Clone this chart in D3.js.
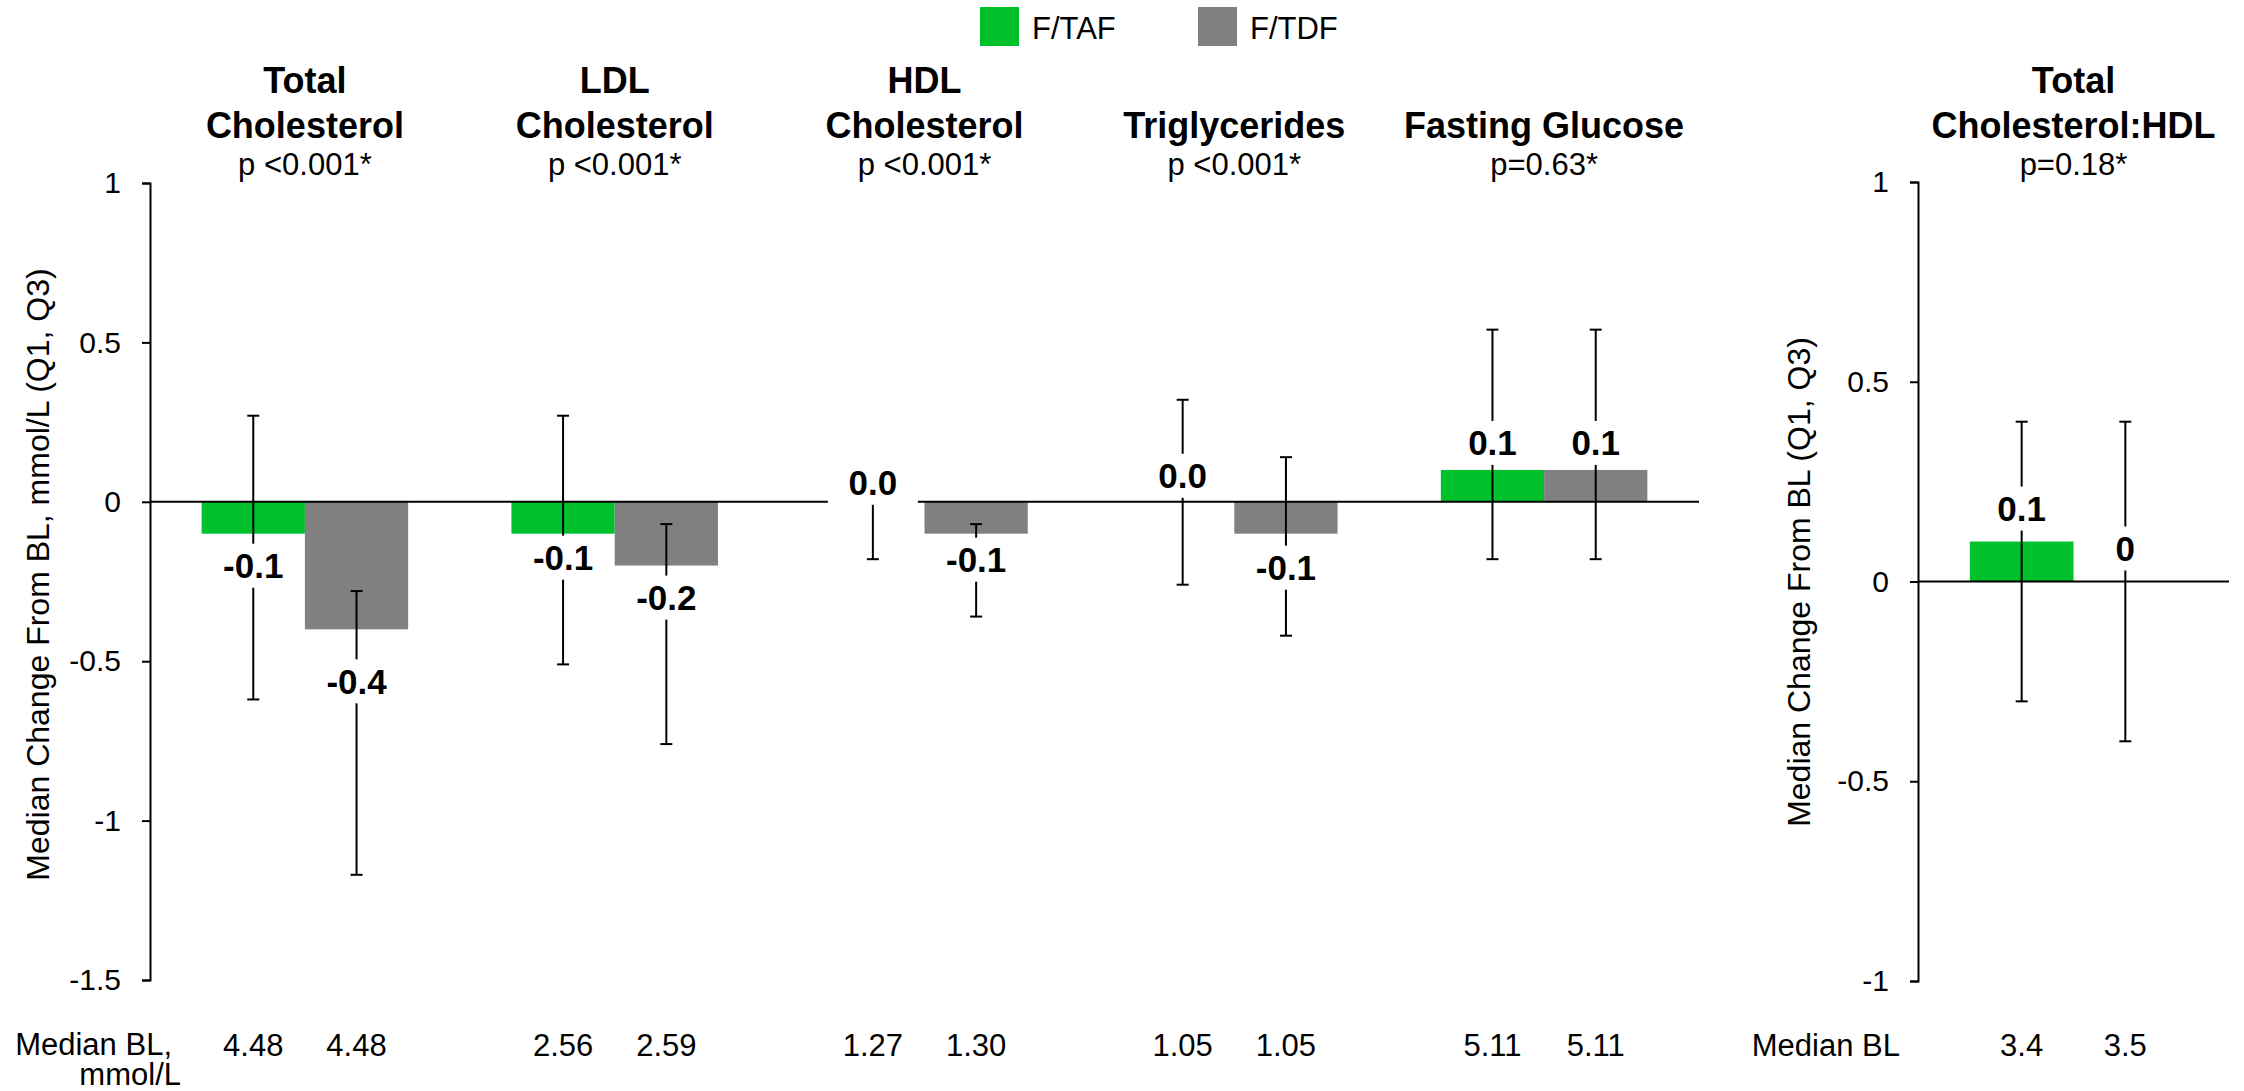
<!DOCTYPE html>
<html>
<head>
<meta charset="utf-8">
<script src="https://cdn.jsdelivr.net/npm/d3@7"></script>
<style>
  body { margin: 0; background: #fff; }
  svg { display: block; }
  text { font-family: "Liberation Sans", Arial, sans-serif; fill: #000; }
</style>
</head>
<body>
<svg id="chart" width="2244" height="1091"></svg>
<script>
// ---------------- DATA ----------------
const series = ["F/TAF", "F/TDF"];

// left panel
const groups = ["Total Cholesterol", "LDL Cholesterol", "HDL Cholesterol", "Triglycerides", "Fasting Glucose"];
const titleLines = [["Total", "Cholesterol"], ["LDL", "Cholesterol"], ["HDL", "Cholesterol"], ["Triglycerides"], ["Fasting Glucose"]];
const pValues = ["p <0.001*", "p <0.001*", "p <0.001*", "p <0.001*", "p=0.63*"];
const tafMedian = [-0.1, -0.1, 0.0, 0.0, 0.1];
const tdfMedian = [-0.4, -0.2, -0.1, -0.1, 0.1];
const tafQ1 = [-0.62, -0.51, -0.18, -0.26, -0.18];
const tafQ3 = [0.27, 0.27, 0.0, 0.32, 0.54];
const tdfQ1 = [-1.17, -0.76, -0.36, -0.42, -0.18];
const tdfQ3 = [-0.28, -0.07, -0.07, 0.14, 0.54];
const tafLabels = ["-0.1", "-0.1", "0.0", "0.0", "0.1"];
const tdfLabels = ["-0.4", "-0.2", "-0.1", "-0.1", "0.1"];
const tafBaseline = ["4.48", "2.56", "1.27", "1.05", "5.11"];
const tdfBaseline = ["4.48", "2.59", "1.30", "1.05", "5.11"];
const leftTicks = [1, 0.5, 0, -0.5, -1, -1.5];
const leftTickLabels = ["1", "0.5", "0", "-0.5", "-1", "-1.5"];

// right panel
const groupsR = ["Total Cholesterol:HDL"];
const titleLinesR = [["Total", "Cholesterol:HDL"]];
const pValuesR = ["p=0.18*"];
const tafMedianR = [0.1];
const tdfMedianR = [0.0];
const tafQ1R = [-0.30];
const tafQ3R = [0.40];
const tdfQ1R = [-0.40];
const tdfQ3R = [0.40];
const tafLabelsR = ["0.1"];
const tdfLabelsR = ["0"];
const tafBaselineR = ["3.4"];
const tdfBaselineR = ["3.5"];
const rightTicks = [1, 0.5, 0, -0.5, -1];
const rightTickLabels = ["1", "0.5", "0", "-0.5", "-1"];

// ---------------- LAYOUT / STYLE ----------------
const COLORS = { "F/TAF": "#00c12b", "F/TDF": "#808080" };
const FONT_REG = 31, FONT_TICK = 30, FONT_YTITLE = 32, FONT_TITLE = 36, FONT_LABEL = 35;
// pixel nudges of the value labels relative to the bar end
const tafLabelDy = [32, 24, -19, -26, -27];
const tdfLabelDy = [52, 32, 26, 34, -27];
const tafLabelDyR = [-33];
const tdfLabelDyR = [-33];

const svg = d3.select("#chart");
svg.append("rect").attr("width", 2244).attr("height", 1091).attr("fill", "#fff");

function drawPanel(cfg) {
  const g = svg.append("g");
  const x = d3.scaleBand().domain(cfg.groups).range(cfg.xRange).paddingInner(0).paddingOuter(0);
  const xs = d3.scaleBand().domain(series).range([0, x.bandwidth()]).paddingInner(0).paddingOuter(0.5);
  const y = d3.scaleLinear().domain(cfg.yDomain).range(cfg.yRange);

  const rows = [];
  cfg.groups.forEach((grp, i) => {
    rows.push({ grp, s: "F/TAF", v: cfg.taf[i], q1: cfg.tafQ1[i], q3: cfg.tafQ3[i], lab: cfg.tafLabels[i], dy: cfg.tafDy[i], bl: cfg.tafBL[i] });
    rows.push({ grp, s: "F/TDF", v: cfg.tdf[i], q1: cfg.tdfQ1[i], q3: cfg.tdfQ3[i], lab: cfg.tdfLabels[i], dy: cfg.tdfDy[i], bl: cfg.tdfBL[i] });
  });
  const cx = d => x(d.grp) + xs(d.s) + xs.bandwidth() / 2;

  // bars
  g.selectAll("rect.bar").data(rows.filter(d => d.v !== 0)).join("rect")
    .attr("class", "bar")
    .attr("x", d => x(d.grp) + xs(d.s))
    .attr("width", xs.bandwidth())
    .attr("y", d => Math.min(y(d.v), y(0)))
    .attr("height", d => Math.abs(y(d.v) - y(0)))
    .attr("fill", d => COLORS[d.s]);

  // zero line
  g.append("line")
    .attr("x1", cfg.xRange[0]).attr("x2", cfg.xRange[1])
    .attr("y1", y(0)).attr("y2", y(0))
    .attr("stroke", "#000").attr("stroke-width", 2);

  // axis
  const ax = g.append("g").attr("transform", `translate(${cfg.xRange[0]},0)`)
    .call(d3.axisLeft(y).tickValues(cfg.ticks).tickFormat((d, i) => cfg.tickLabels[i]).tickSize(8).tickPadding(21));
  ax.selectAll("path, line").attr("stroke", "#000").attr("stroke-width", 2);
  ax.selectAll("text").attr("font-size", FONT_TICK).attr("font-family", "Liberation Sans, Arial, sans-serif").attr("fill", "#000");

  // error bars
  const cap = 6;
  const eb = g.selectAll("g.eb").data(rows).join("g").attr("class", "eb");
  eb.append("line").attr("x1", cx).attr("x2", cx).attr("y1", d => y(d.q3)).attr("y2", d => y(d.q1));
  eb.append("line").attr("x1", d => cx(d) - cap).attr("x2", d => cx(d) + cap).attr("y1", d => y(d.q3)).attr("y2", d => y(d.q3));
  eb.append("line").attr("x1", d => cx(d) - cap).attr("x2", d => cx(d) + cap).attr("y1", d => y(d.q1)).attr("y2", d => y(d.q1));
  eb.selectAll("line").attr("stroke", "#000").attr("stroke-width", 2);

  // value labels with white boxes
  const lg = g.selectAll("g.lab").data(rows).join("g").attr("class", "lab")
    .attr("transform", d => `translate(${cx(d)},${y(d.v) + d.dy})`);
  lg.append("rect").attr("x", -45).attr("y", -22).attr("width", 90).attr("height", 44).attr("fill", "#fff");
  lg.append("text").attr("text-anchor", "middle").attr("y", 12.5)
    .attr("font-size", FONT_LABEL).attr("font-weight", "bold").text(d => d.lab);

  // titles
  cfg.groups.forEach((grp, i) => {
    const c = x(grp) + x.bandwidth() / 2;
    const lines = cfg.titles[i];
    const t = g.append("text").attr("text-anchor", "middle").attr("font-size", FONT_TITLE).attr("font-weight", "bold");
    lines.forEach((ln, k) => {
      t.append("tspan").attr("x", c).attr("y", 138 - (lines.length - 1 - k) * 45).text(ln);
    });
    g.append("text").attr("text-anchor", "middle").attr("x", c).attr("y", 175)
      .attr("font-size", FONT_REG).text(cfg.pvals[i]);
  });

  // baseline values
  g.selectAll("text.bl").data(rows).join("text").attr("class", "bl")
    .attr("x", cx).attr("y", 1056).attr("text-anchor", "middle")
    .attr("font-size", FONT_REG).text(d => d.bl);

  // y title
  g.append("text")
    .attr("transform", `translate(${cfg.yTitleX},${cfg.yTitleY}) rotate(-90)`)
    .attr("text-anchor", "middle").attr("font-size", FONT_YTITLE).text(cfg.yTitle);
}

drawPanel({
  groups, titles: titleLines, pvals: pValues,
  taf: tafMedian, tdf: tdfMedian, tafQ1, tafQ3, tdfQ1, tdfQ3,
  tafLabels, tdfLabels, tafDy: tafLabelDy, tdfDy: tdfLabelDy,
  tafBL: tafBaseline, tdfBL: tdfBaseline,
  xRange: [150, 1699], yDomain: [-1.5, 1], yRange: [980, 183],
  ticks: leftTicks, tickLabels: leftTickLabels,
  yTitle: "Median Change From BL, mmol/L (Q1, Q3)", yTitleX: 48.5, yTitleY: 574.5
});

drawPanel({
  groups: groupsR, titles: titleLinesR, pvals: pValuesR,
  taf: tafMedianR, tdf: tdfMedianR, tafQ1: tafQ1R, tafQ3: tafQ3R, tdfQ1: tdfQ1R, tdfQ3: tdfQ3R,
  tafLabels: tafLabelsR, tdfLabels: tdfLabelsR, tafDy: tafLabelDyR, tdfDy: tdfLabelDyR,
  tafBL: tafBaselineR, tdfBL: tdfBaselineR,
  xRange: [1918, 2229], yDomain: [-1, 1], yRange: [981, 182],
  ticks: rightTicks, tickLabels: rightTickLabels,
  yTitle: "Median Change From BL (Q1, Q3)", yTitleX: 1809.5, yTitleY: 582
});

// row labels for baseline values
const rl = svg.append("text").attr("font-size", FONT_REG).attr("text-anchor", "end");
rl.append("tspan").attr("x", 172).attr("y", 1055).text("Median BL,");
rl.append("tspan").attr("x", 181).attr("y", 1085).text("mmol/L");
svg.append("text").attr("font-size", FONT_REG).attr("text-anchor", "end")
  .attr("x", 1900).attr("y", 1056).text("Median BL");

// legend
const legendX = [980, 1198];
const lgd = svg.selectAll("g.legend").data(series).join("g").attr("class", "legend")
  .attr("transform", (d, i) => `translate(${legendX[i]},7)`);
lgd.append("rect").attr("width", 39).attr("height", 39).attr("fill", d => COLORS[d]);
lgd.append("text").attr("x", 52).attr("y", 32).attr("font-size", FONT_REG).text(d => d);
</script>
</body>
</html>
